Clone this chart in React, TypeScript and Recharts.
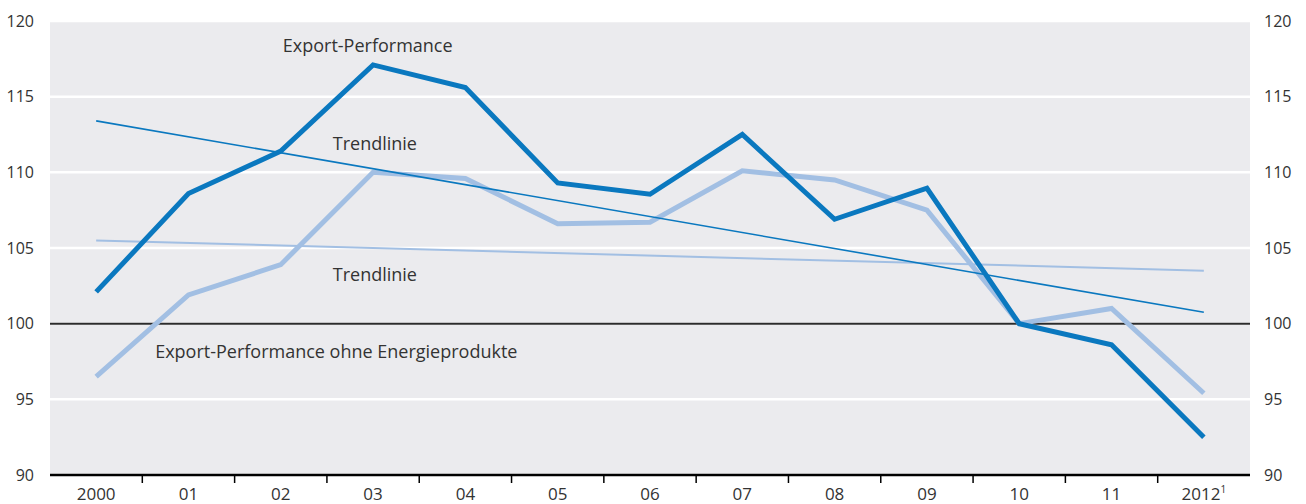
import React from "react";
import {
  LineChart,
  Line,
  XAxis,
  YAxis,
  CartesianGrid,
  ReferenceLine,
  ReferenceDot,
} from "recharts";

// Jahre (2012 mit Fußnote 1)
const years = ["2000", "01", "02", "03", "04", "05", "06", "07", "08", "09", "10", "11", "2012"];
const footnoteYear = "2012";
const footnoteMark = "1";

// Export-Performance, 2010 = 100
const exportPerformance = [102.1, 108.6, 111.4, 117.1, 115.6, 109.3, 108.55, 112.5, 106.9, 108.95, 100, 98.6, 92.5];
// Export-Performance ohne Energieprodukte
const exportOhneEnergie = [96.5, 101.9, 103.9, 110.0, 109.6, 106.6, 106.7, 110.1, 109.5, 107.5, 100, 101.0, 95.4];
// Trendlinien (nur Anfangs- und Endpunkt)
const trendExport = [113.4, null, null, null, null, null, null, null, null, null, null, null, 100.75];
const trendOhneEnergie = [105.5, null, null, null, null, null, null, null, null, null, null, null, 103.5];

const yTicks = [90, 95, 100, 105, 110, 115, 120];

const labelExport = "Export-Performance";
const labelTrend = "Trendlinie";
const labelOhneEnergie = "Export-Performance ohne Energieprodukte";

const data = years.map((year, i) => ({
  year,
  exp: exportPerformance[i],
  expOhne: exportOhneEnergie[i],
  trendExp: trendExport[i],
  trendOhne: trendOhneEnergie[i],
}));

const FONT = "'Open Sans', 'DejaVu Sans', sans-serif";
const TEXT = "#333333";
const DARK = "#0a78bf";
const LIGHT = "#a2bfe3";

const XTick = (props: any) => {
  const { x, y, payload, index } = props;
  const half = payload && payload.offset > 0 ? payload.offset : 46.15;
  const isLast = index === years.length - 1;
  return (
    <g>
      {!isLast && (
        <line x1={x + half} x2={x + half} y1={y} y2={y + 8} stroke="#000" strokeWidth={1.5} />
      )}
      <text x={x} y={y + 25} textAnchor="middle" fontFamily={FONT} fontSize={17} fill={TEXT}>
        {payload.value}
        {payload.value === footnoteYear && (
          <tspan dy={-7} fontSize={10}>
            {footnoteMark}
          </tspan>
        )}
      </text>
    </g>
  );
};

const noteLabel = (text: string, dx: number) => (props: any) => {
  const { viewBox } = props;
  const cx = viewBox.x + viewBox.width / 2;
  const cy = viewBox.y + viewBox.height / 2;
  return (
    <text x={cx + dx} y={cy} dy="0.35em" textAnchor="start" fontFamily={FONT} fontSize={18} fill={TEXT}>
      {text}
    </text>
  );
};

export default function App() {
  return (
    <div style={{ position: "absolute", left: 0, top: 0, width: 1306, height: 504, background: "#fff" }}>
      <LineChart width={1306} height={504} data={data} margin={{ top: 21, right: 0, bottom: 0, left: 0 }}>
        <CartesianGrid yAxisId="left" vertical={false} horizontal fill="#ebebee" stroke="#ffffff" strokeWidth={2.5} />
        <XAxis
          dataKey="year"
          scale="band"
          height={29}
          tickSize={0}
          tickMargin={0}
          tickLine={false}
          axisLine={{ stroke: "#000", strokeWidth: 2.5 }}
          tick={<XTick />}
          interval={0}
        />
        <YAxis
          yAxisId="left"
          width={50}
          domain={[90, 120]}
          ticks={yTicks}
          tickSize={0}
          tickMargin={16}
          axisLine={false}
          tickLine={false}
          tick={{ fontFamily: FONT, fontSize: 16, fill: TEXT }}
        />
        <YAxis
          yAxisId="right"
          orientation="right"
          width={56}
          domain={[90, 120]}
          ticks={yTicks}
          tickSize={0}
          tickMargin={14}
          axisLine={false}
          tickLine={false}
          tick={{ fontFamily: FONT, fontSize: 16, fill: TEXT }}
        />
        <ReferenceLine yAxisId="left" y={100} stroke="#2b2b2b" strokeWidth={2} />
        <Line
          yAxisId="right"
          type="linear"
          dataKey="trendOhne"
          stroke={LIGHT}
          strokeWidth={2}
          dot={false}
          connectNulls
          isAnimationActive={false}
        />
        <Line
          yAxisId="left"
          type="linear"
          dataKey="expOhne"
          stroke={LIGHT}
          strokeWidth={5}
          dot={false}
          isAnimationActive={false}
        />
        <Line
          yAxisId="left"
          type="linear"
          dataKey="trendExp"
          stroke={DARK}
          strokeWidth={1.6}
          dot={false}
          connectNulls
          isAnimationActive={false}
        />
        <Line
          yAxisId="left"
          type="linear"
          dataKey="exp"
          stroke={DARK}
          strokeWidth={5}
          dot={false}
          isAnimationActive={false}
        />
        <ReferenceDot yAxisId="left" x="02" y={118.4} r={0} fill="none" stroke="none" label={noteLabel(labelExport, 2)} />
        <ReferenceDot yAxisId="left" x="02" y={111.87} r={0} fill="none" stroke="none" label={noteLabel(labelTrend, 52)} />
        <ReferenceDot yAxisId="left" x="02" y={103.25} r={0} fill="none" stroke="none" label={noteLabel(labelTrend, 52)} />
        <ReferenceDot yAxisId="left" x="2000" y={98.15} r={0} fill="none" stroke="none" label={noteLabel(labelOhneEnergie, 59)} />
      </LineChart>
    </div>
  );
}
